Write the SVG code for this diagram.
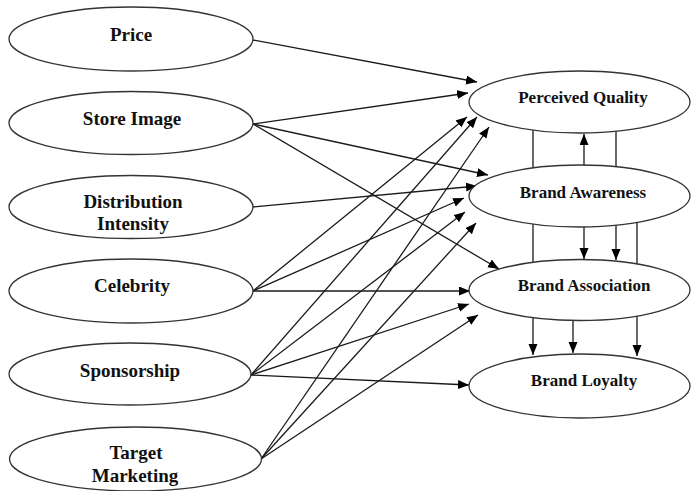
<svg xmlns="http://www.w3.org/2000/svg" width="691" height="491" viewBox="0 0 691 491">
<style>
.n ellipse{fill:#fff;stroke:#333;stroke-width:1.3}
.n text{font-family:"Liberation Serif","Times New Roman",serif;font-weight:bold;fill:#111;text-anchor:middle}
.l text{font-size:19px}
.r text{font-size:17px}
#edges line{stroke:#1a1a1a;stroke-width:1.3;marker-end:url(#ah)}
#edges line.p{marker-end:none}
</style>
<defs>
<marker id="ah" markerWidth="12" markerHeight="10" refX="11" refY="4.5" orient="auto" markerUnits="userSpaceOnUse">
<path d="M0,0 L11,4.5 L0,9 z" fill="#000"/>
</marker>
</defs>
<rect width="691" height="491" fill="#fff"/>
<g id="edges">
<line x1="253" y1="40" x2="477" y2="82"/>
<line x1="253" y1="124" x2="468" y2="93"/>
<line x1="253" y1="124" x2="488" y2="175"/>
<line x1="253" y1="124" x2="499" y2="269"/>
<line x1="253" y1="207" x2="477" y2="186"/>
<line x1="253" y1="291" x2="467" y2="117"/>
<line x1="253" y1="291" x2="464" y2="198"/>
<line x1="253" y1="291" x2="470" y2="291"/>
<line x1="251" y1="375" x2="477" y2="117"/>
<line x1="251" y1="375" x2="465" y2="212"/>
<line x1="251" y1="375" x2="469" y2="304"/>
<line x1="251" y1="375" x2="469" y2="385"/>
<line x1="261" y1="459" x2="489" y2="127"/>
<line x1="261" y1="459" x2="476" y2="223"/>
<line x1="261" y1="459" x2="478" y2="315"/>
<line x1="533" y1="128" x2="533" y2="355"/>
<line x1="584" y1="166" x2="584" y2="134"/>
<line x1="616" y1="128" x2="616" y2="260"/>
<line x1="584" y1="226" x2="584" y2="259"/>
<line x1="637" y1="220" x2="637" y2="356"/>
<line x1="573" y1="319" x2="573" y2="353"/>
</g>
<g id="price" class="n l"><ellipse cx="131" cy="39" rx="122" ry="32"/><text x="131" y="41">Price</text></g>
<g id="store-image" class="n l"><ellipse cx="131" cy="123" rx="122" ry="31.5"/><text x="132" y="125">Store Image</text></g>
<g id="distribution-intensity" class="n l"><ellipse cx="131" cy="207" rx="122" ry="31.5"/><text x="133" y="208">Distribution</text><text x="133" y="230">Intensity</text></g>
<g id="celebrity" class="n l"><ellipse cx="131" cy="291" rx="122" ry="32"/><text x="132" y="292">Celebrity</text></g>
<g id="sponsorship" class="n l"><ellipse cx="130" cy="374" rx="121" ry="31"/><text x="130" y="377">Sponsorship</text></g>
<g id="target-marketing" class="n l"><ellipse cx="135.5" cy="459" rx="126" ry="32"/><text x="136" y="459">Target</text><text x="135" y="482">Marketing</text></g>
<g id="perceived-quality" class="n r"><ellipse cx="579.5" cy="102" rx="110.5" ry="31"/><text x="583" y="103">Perceived Quality</text></g>
<g id="brand-awareness" class="n r"><ellipse cx="579.5" cy="196" rx="110.5" ry="31"/><text x="583" y="198">Brand Awareness</text></g>
<g id="brand-association" class="n r"><ellipse cx="579.5" cy="290" rx="110.5" ry="30.5"/><text x="584" y="291">Brand Association</text></g>
<g id="brand-loyalty" class="n r"><ellipse cx="579.5" cy="386" rx="110.5" ry="32"/><text x="584" y="386">Brand Loyalty</text></g>
</svg>
